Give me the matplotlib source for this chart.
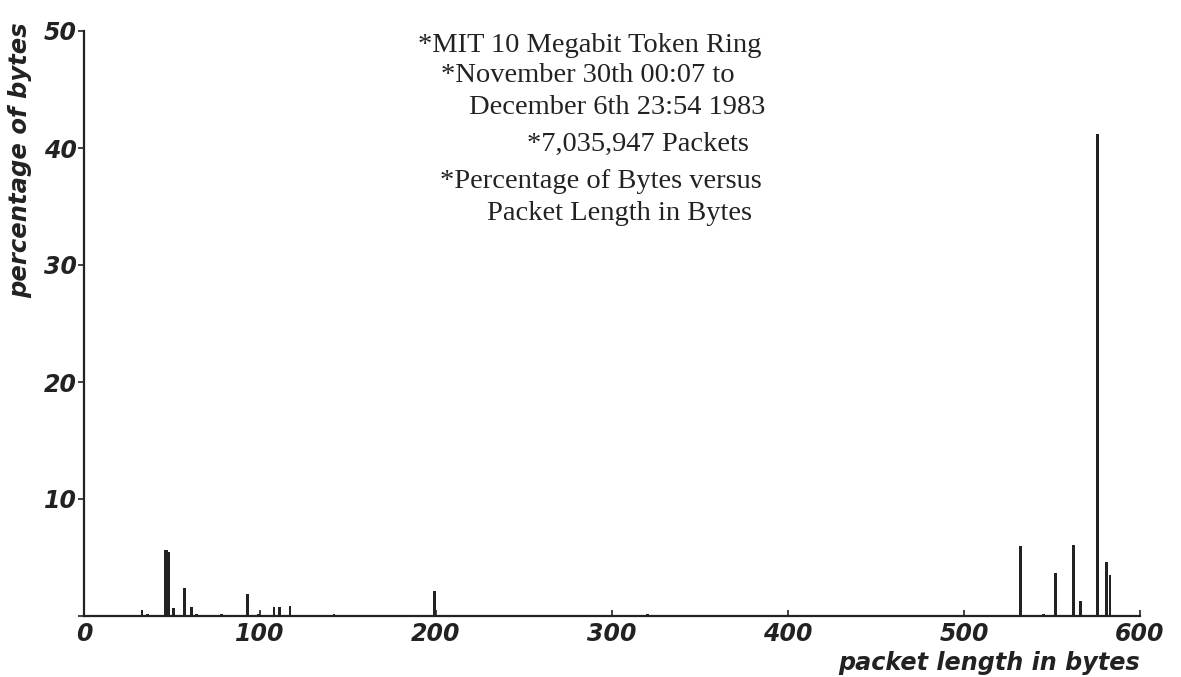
import matplotlib
matplotlib.use("Agg")
from matplotlib import pyplot as plt

# packet length (bytes) and percentage of bytes
lengths = [33, 36, 46, 47, 48, 51, 57, 61, 64, 72, 78, 93, 99, 108, 111, 117, 130, 142, 199,
           250, 300, 320, 360, 420, 500, 532, 545, 552, 562, 566, 576, 581, 583]
percent = [0.5, 0.15, 5.6, 5.6, 5.5, 0.7, 2.4, 0.8, 0.2, 0.1, 0.2, 1.9, 0.2, 0.75, 0.75, 0.85, 0.1, 0.15, 2.1,
           0.1, 0.1, 0.15, 0.1, 0.1, 0.1, 6.0, 0.2, 3.7, 6.1, 1.3, 41.2, 4.6, 3.5]

x_ticks = [0, 100, 200, 300, 400, 500, 600]
y_ticks = [0, 10, 20, 30, 40, 50]

notes = ["*MIT 10 Megabit Token Ring",
         "*November 30th 00:07 to",
         "December 6th 23:54 1983",
         "*7,035,947 Packets",
         "*Percentage of Bytes versus",
         "Packet Length in Bytes"]
note_x = [418, 441, 469, 527, 440, 487]
note_y = [45, 76, 107, 144, 182, 214]

fig = plt.figure(figsize=(11.81, 6.77), dpi=100)
ax = fig.add_axes([84/1181, 1-616/677, (1140-84)/1181, (616-31)/677])

ax.bar(lengths, percent, width=1.6, color="#222222", align="center")

ax.set_xlim(0, 600)
ax.set_ylim(0, 50)
ax.spines["top"].set_visible(False)
ax.spines["right"].set_visible(False)
ax.spines["left"].set_linewidth(1.6)
ax.spines["bottom"].set_linewidth(1.6)
ax.spines["left"].set_color("#222222")
ax.spines["bottom"].set_color("#222222")

tick_font = dict(family="DejaVu Sans", style="italic", weight="bold", size=17, color="#222222")
ax.set_xticks(x_ticks)
ax.set_yticks(y_ticks)
ax.set_xticklabels([str(v) for v in x_ticks], **tick_font)
ax.set_yticklabels(["" if v == 0 else str(v) for v in y_ticks], **tick_font)
ax.tick_params(axis="both", length=4, width=1.2, color="#222222", pad=4)
ax.tick_params(axis="y", direction="out", pad=1)
ax.tick_params(axis="x", direction="in")

fig.text(838/1181, 1-663/677, "packet length in bytes", ha="left", va="center",
         family="DejaVu Sans", style="italic", weight="bold", size=17.2, color="#222222")
fig.text(20/1181, 1-160/677, "percentage of bytes", ha="center", va="center", rotation=90,
         family="DejaVu Sans", style="italic", weight="bold", size=17.5, color="#222222")

for s, x, y in zip(notes, note_x, note_y):
    fig.text(x/1181, 1-y/677, s, ha="left", va="center",
             family="Liberation Serif", size=20.5, color="#222222")

fig.savefig("out.png", dpi=100)
